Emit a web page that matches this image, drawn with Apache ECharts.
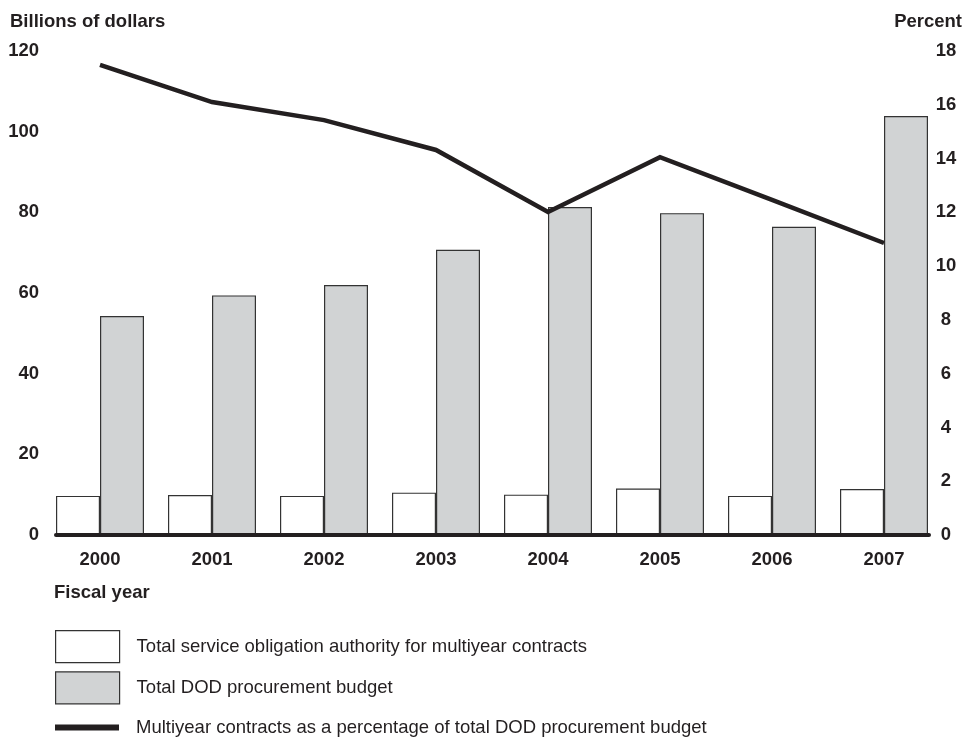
<!DOCTYPE html>
<html>
<head>
<meta charset="utf-8">
<script src="https://cdn.jsdelivr.net/npm/echarts@6/dist/echarts.min.js"></script>
<style>
  html, body { margin: 0; padding: 0; background: #fff; }
  #chart { width: 967px; height: 740px; }
</style>
</head>
<body>
<div id="chart"></div>
<script>
// ---- Data ----
const years = ['2000', '2001', '2002', '2003', '2004', '2005', '2006', '2007'];
const multiyearAuthority = [9.7, 9.9, 9.7, 10.5, 10.0, 11.5, 9.7, 11.4];          // billions
const procurementBudget = [54.3, 59.4, 62.0, 70.7, 81.3, 79.8, 76.4, 103.9];       // billions
const multiyearPercent = [17.48, 16.1, 15.43, 14.32, 12.01, 14.05, 12.46, 10.86];  // percent
const leftTicks = { min: 0, max: 120, interval: 20 };
const rightTicks = { min: 0, max: 18, interval: 2 };

const seriesNames = [
  'Total service obligation authority for multiyear contracts',
  'Total DOD procurement budget',
  'Multiyear contracts as a percentage of total DOD procurement budget'
];

const ink = '#231f20';
const font = 'Liberation Sans, Arial, Helvetica, sans-serif';
const fs = 18.5;

const chart = echarts.init(document.getElementById('chart'), null, { renderer: 'canvas' });

chart.setOption({
  backgroundColor: '#ffffff',
  animation: false,
  textStyle: { fontFamily: font, color: ink },
  title: [
    { text: 'Billions of dollars', left: 10, top: 12, padding: 0,
      textStyle: { fontSize: fs, fontWeight: 'bold', color: ink, fontFamily: font, lineHeight: 20 } },
    { text: 'Percent', right: 5, top: 12, padding: 0,
      textStyle: { fontSize: fs, fontWeight: 'bold', color: ink, fontFamily: font, lineHeight: 20 } },
    { text: 'Fiscal year', left: 54, top: 583, padding: 0,
      textStyle: { fontSize: fs, fontWeight: 'bold', color: ink, fontFamily: font, lineHeight: 20 } }
  ],
  legend: [
    {
      orient: 'vertical', left: 55, top: 630, padding: 0,
      itemWidth: 64, itemHeight: 32, itemGap: 8,
      selectedMode: false,
      textStyle: { fontSize: fs, color: ink, fontFamily: font, lineHeight: 20, padding: [7, 0, 0, 12] },
      data: [
        { name: seriesNames[0], icon: 'rect', itemStyle: { color: '#ffffff', borderColor: '#333333', borderWidth: 1.2 } },
        { name: seriesNames[1], icon: 'rect', itemStyle: { color: '#d1d3d4', borderColor: '#333333', borderWidth: 1.2 } }
      ]
    },
    {
      orient: 'vertical', left: 55, top: 715, padding: 0,
      itemWidth: 64, itemHeight: 6,
      selectedMode: false,
      textStyle: { fontSize: fs, color: ink, fontFamily: font, lineHeight: 20, padding: [5, 0, 0, 12] },
      data: [
        { name: seriesNames[2], icon: 'rect', itemStyle: { color: ink, borderWidth: 0 } }
      ]
    }
  ],
  grid: [
    { left: 44, right: 27, top: 51, bottom: 205, containLabel: false },
    { left: 56, right: 38, top: 51, bottom: 205, containLabel: false }
  ],
  xAxis: [
    {
      type: 'category', gridIndex: 0, data: years,
      axisLine: { show: false },
      axisTick: { show: false },
      axisLabel: { fontSize: fs, fontWeight: 'bold', color: ink, fontFamily: font, margin: 15 },
      splitLine: { show: false }
    },
    {
      type: 'category', gridIndex: 1, data: years,
      axisLine: { show: true, onZero: false, lineStyle: { color: ink, width: 4 } },
      axisTick: { show: false },
      axisLabel: { show: false },
      splitLine: { show: false },
      z: 10
    }
  ],
  yAxis: [
    {
      type: 'value', gridIndex: 0, position: 'left',
      min: leftTicks.min, max: leftTicks.max, interval: leftTicks.interval,
      axisLine: { show: false }, axisTick: { show: false }, splitLine: { show: false },
      axisLabel: { fontSize: fs, fontWeight: 'bold', color: ink, fontFamily: font, margin: 5 }
    },
    {
      type: 'value', gridIndex: 0, position: 'right',
      min: rightTicks.min, max: rightTicks.max, interval: rightTicks.interval,
      axisLine: { show: false }, axisTick: { show: false }, splitLine: { show: false },
      axisLabel: { fontSize: fs, fontWeight: 'bold', color: ink, fontFamily: font, margin: 6, align: 'center' }
    },
    {
      type: 'value', gridIndex: 1, min: 0, max: 1, show: false,
      axisLine: { show: false }, axisTick: { show: false }, splitLine: { show: false }, axisLabel: { show: false }
    }
  ],
  series: [
    {
      name: seriesNames[0], type: 'bar', xAxisIndex: 0, yAxisIndex: 0,
      data: multiyearAuthority, barWidth: 44, barGap: '0%',
      itemStyle: { color: '#ffffff', borderColor: '#333333', borderWidth: 1.2 },
      z: 2
    },
    {
      name: seriesNames[1], type: 'bar', xAxisIndex: 0, yAxisIndex: 0,
      data: procurementBudget, barWidth: 44, barGap: '0%',
      itemStyle: { color: '#d1d3d4', borderColor: '#333333', borderWidth: 1.2 },
      z: 2
    },
    {
      name: seriesNames[2], type: 'line', xAxisIndex: 0, yAxisIndex: 1,
      data: multiyearPercent, symbol: 'none', showSymbol: false,
      lineStyle: { color: ink, width: 4.5, join: 'miter' },
      itemStyle: { color: ink },
      z: 5
    }
  ]
});
</script>
</body>
</html>
